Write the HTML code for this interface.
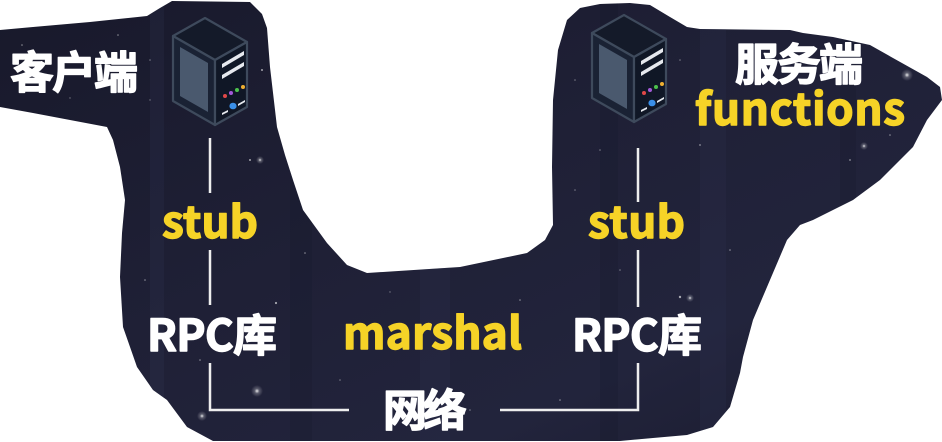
<!DOCTYPE html>
<html>
<head>
<meta charset="utf-8">
<style>
html,body{margin:0;padding:0;background:#ffffff;}
body{width:942px;height:442px;overflow:hidden;}
svg{display:block;}
.t{font-family:"Noto Sans CJK SC","Liberation Sans",sans-serif;font-weight:700;font-size:44px;}
</style>
</head>
<body>
<svg width="942" height="442" viewBox="0 0 942 442" xmlns="http://www.w3.org/2000/svg">
  <defs>
    <linearGradient id="bg" x1="0" y1="0" x2="1" y2="1">
      <stop offset="0" stop-color="#18192b"/>
      <stop offset="0.45" stop-color="#1f2036"/>
      <stop offset="0.75" stop-color="#22243c"/>
      <stop offset="1" stop-color="#1a1b2e"/>
    </linearGradient>
    <radialGradient id="glow">
      <stop offset="0" stop-color="#ffffff" stop-opacity="0.9"/>
      <stop offset="0.4" stop-color="#ffffff" stop-opacity="0.25"/>
      <stop offset="1" stop-color="#ffffff" stop-opacity="0"/>
    </radialGradient>
    <clipPath id="shape">
      <path d="M0,30 L33,27 L90,22 L147,16 L160,8 L172,1 L250,2 L262,14 L267,28 L270,67 L277,127 L285,155 L293,180 L303,210 L327,243 L347,265 L367,273 L460,267 L527,253 L545,240 L553,225 L552,167 L553,100 L558,50 L567,20 L580,8 L600,4 L630,3 L650,5 L670,17 L687,27 L700,29 L790,30 L803,33 L833,37 L870,45 L893,58 L927,77 L940,87 L942,100 L927,120 L913,147 L880,180 L853,200 L813,220 L800,225 L787,240 L767,287 L753,320 L743,357 L740,373 L730,407 L713,427 L687,435 L653,438 L620,441 L213,441 L187,427 L167,400 L153,390 L137,367 L123,327 L120,277 L122,233 L125,200 L120,167 L113,140 L107,127 L33,113 L0,107 Z"/>
    </clipPath>
    <g id="server">
      <polygon points="173,36 205,18 247,42 215,60" fill="#141a29" stroke="#3e4a5c" stroke-width="2.2" stroke-linejoin="round"/>
      <polygon points="173,36 215,60 215,125 173,101" fill="#1a2234" stroke="#3e4a5c" stroke-width="2.2" stroke-linejoin="round"/>
      <polygon points="215,60 247,42 247,107 215,125" fill="#101726" stroke="#3e4a5c" stroke-width="2.2" stroke-linejoin="round"/>
      <polygon points="180,47 208,63 208,112 180,96" fill="#4a596e"/>
      <polygon points="222,64 244,51 244,55 222,68" fill="#e6e9ee"/>
      <polygon points="222,75 244,62 244,66 222,79" fill="#e6e9ee"/>
      <circle cx="225" cy="96" r="2" fill="#e04848"/>
      <circle cx="231" cy="93" r="2" fill="#a35ad8"/>
      <circle cx="237" cy="90" r="2" fill="#4cc24c"/>
      <circle cx="243" cy="87" r="2" fill="#f0b030"/>
      <ellipse cx="233" cy="106" rx="3.6" ry="3.3" fill="#3a8fe8"/>
      <polygon points="222,113 228,110 228,112 222,115" fill="#e6e9ee"/>
      <polygon points="238,104 245,100 245,102 238,106" fill="#e6e9ee"/>
    </g>
  </defs>

  <g clip-path="url(#shape)">
    <rect x="0" y="0" width="942" height="442" fill="url(#bg)"/>
    <g opacity="0.18">
      <rect x="150" y="0" width="14" height="442" fill="#3a3d5e"/>
      <rect x="290" y="0" width="22" height="442" fill="#131426"/>
      <rect x="420" y="0" width="30" height="442" fill="#34375a"/>
      <rect x="600" y="0" width="18" height="442" fill="#131426"/>
      <rect x="700" y="0" width="26" height="442" fill="#34375a"/>
      <rect x="840" y="0" width="16" height="442" fill="#131426"/>
    </g>
    <g fill="#ffffff">
      <circle cx="22" cy="45" r="0.8" opacity="0.5"/>
      <circle cx="70" cy="98" r="0.7" opacity="0.4"/>
      <circle cx="118" cy="35" r="0.8" opacity="0.5"/>
      <circle cx="150" cy="100" r="0.7" opacity="0.4"/>
      <circle cx="262" cy="70" r="1" opacity="0.6"/>
      <circle cx="250" cy="160" r="1" opacity="0.6"/>
      <circle cx="145" cy="280" r="0.8" opacity="0.5"/>
      <circle cx="276" cy="303" r="1.1" opacity="0.6"/>
      <circle cx="305" cy="253" r="0.8" opacity="0.5"/>
      <circle cx="200" cy="360" r="0.8" opacity="0.5"/>
      <circle cx="340" cy="380" r="0.8" opacity="0.4"/>
      <circle cx="390" cy="292" r="0.7" opacity="0.4"/>
      <circle cx="520" cy="300" r="0.8" opacity="0.5"/>
      <circle cx="560" cy="400" r="0.8" opacity="0.5"/>
      <circle cx="620" cy="270" r="0.8" opacity="0.4"/>
      <circle cx="680" cy="297" r="1.2" opacity="0.6"/>
      <circle cx="730" cy="250" r="0.8" opacity="0.5"/>
      <circle cx="700" cy="145" r="0.9" opacity="0.5"/>
      <circle cx="760" cy="115" r="1" opacity="0.6"/>
      <circle cx="850" cy="160" r="0.9" opacity="0.5"/>
      <circle cx="890" cy="135" r="0.8" opacity="0.5"/>
      <circle cx="600" cy="150" r="0.8" opacity="0.4"/>
      <circle cx="575" cy="80" r="0.8" opacity="0.4"/>
      <circle cx="680" cy="60" r="0.8" opacity="0.4"/>
      <circle cx="575" cy="190" r="0.8" opacity="0.4"/>
      <circle cx="470" cy="410" r="0.8" opacity="0.4"/>
      <circle cx="150" cy="60" r="0.8" opacity="0.4"/>
    </g>
    <circle cx="257" cy="391" r="6" fill="url(#glow)"/>
    <circle cx="202" cy="416" r="5" fill="url(#glow)"/>
    <circle cx="907" cy="75" r="6" fill="url(#glow)"/>
    <circle cx="864" cy="146" r="4" fill="url(#glow)"/>
    <circle cx="690" cy="298" r="4" fill="url(#glow)"/>
    <circle cx="260" cy="160" r="4" fill="url(#glow)"/>
  </g>

  <use href="#server"/>
  <use href="#server" transform="translate(419,-3)"/>

  <g stroke="#eeeeee" stroke-width="2.5" fill="none" stroke-linecap="butt">
    <line x1="210" y1="138" x2="210" y2="193"/>
    <line x1="638" y1="148" x2="638" y2="202"/>
    <line x1="210" y1="250" x2="210" y2="305"/>
    <line x1="638" y1="250" x2="638" y2="307"/>
    <polyline points="210,363 210,410 349,410"/>
    <polyline points="500,410 638,410 638,363"/>
  </g>

  <g class="t" stroke-width="1.4" stroke-linejoin="round">
    <text x="10" y="88" fill="#ffffff" stroke="#ffffff" textLength="128">客户端</text>
    <text x="735" y="80" fill="#ffffff" stroke="#ffffff" textLength="128">服务端</text>
    <text x="695" y="125" fill="#f6d327" stroke="#f6d327" textLength="210">functions</text>
    <text x="162" y="238" fill="#f6d327" stroke="#f6d327" textLength="96">stub</text>
    <text x="588" y="238" fill="#f6d327" stroke="#f6d327" textLength="97">stub</text>
    <text x="147" y="351" fill="#ffffff" stroke="#ffffff" textLength="130">RPC库</text>
    <text x="572" y="351" fill="#ffffff" stroke="#ffffff" textLength="130">RPC库</text>
    <text x="343" y="349" fill="#f6d327" stroke="#f6d327" textLength="179">marshal</text>
    <text x="383" y="426" fill="#ffffff" stroke="#ffffff" textLength="84">网络</text>
  </g>
</svg>
</body>
</html>
